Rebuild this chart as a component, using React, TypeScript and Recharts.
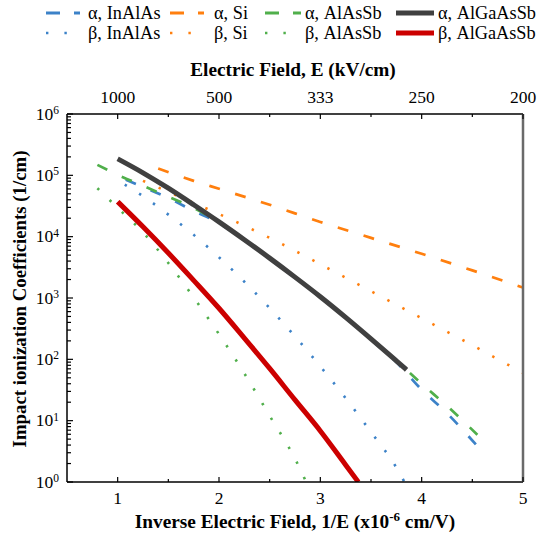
import React from 'react';
import { LineChart, Line, XAxis, YAxis } from 'recharts';

const FONT = "'Liberation Serif', 'Times New Roman', serif";

// ---- data (x: inverse field 1/E in 1e-6 cm/V, y: coefficient in 1/cm) ----
const alphaInAlAsX = [1.08, 1.25, 1.5, 1.75, 2.0, 2.25, 2.5, 2.75, 3.0, 3.25, 3.5, 3.75, 4.0, 4.25, 4.54];
const alphaInAlAsY = [85100, 64600, 42700, 26300, 16600, 8710, 4370, 2140, 1030, 479, 210, 90, 32, 13.2, 4.0];

const betaInAlAsX = [1.07, 1.25, 1.5, 1.75, 2.0, 2.25, 2.5, 2.75, 3.0, 3.25, 3.5, 3.75, 3.83];
const betaInAlAsY = [70800, 45700, 22900, 10700, 4620, 1840, 684, 237, 76.7, 23.2, 6.53, 1.72, 1];

const alphaSiX = [1.4, 1.75, 2.0, 2.5, 3.0, 3.5, 4.0, 4.5, 5.0];
const alphaSiY = [129000, 81300, 60300, 33100, 17400, 9550, 5250, 2820, 1480];

const betaSiX = [1.25, 1.5, 1.75, 2.0, 2.25, 2.5, 2.75, 3.0, 3.25, 3.5, 3.75, 4.0, 4.25, 4.5, 4.75, 5.0];
const betaSiY = [81300, 53700, 35500, 23400, 15100, 9550, 5890, 3550, 2140, 1290, 776, 468, 282, 170, 101, 60];

const alphaAlAsSbX = [0.8, 1.0, 1.25, 1.5, 1.75, 2.0, 2.25, 2.5, 2.75, 3.0, 3.25, 3.5, 3.75, 4.0, 4.25, 4.55];
const alphaAlAsSbY = [148000, 102000, 67600, 44700, 29500, 17000, 8810, 4420, 2180, 1050, 484, 216, 96, 40, 17.4, 5.9];

const betaAlAsSbX = [0.8, 1.0, 1.25, 1.5, 1.75, 2.0, 2.25, 2.5, 2.75, 2.86];
const betaAlAsSbY = [61700, 29500, 11700, 3720, 1020, 257, 59, 12, 2.4, 1];

const alphaAlGaAsSbX = [1.0, 1.25, 1.5, 1.75, 2.0, 2.25, 2.5, 2.75, 3.0, 3.25, 3.5, 3.75, 3.85];
const alphaAlGaAsSbY = [186000, 110000, 61700, 33100, 17400, 8910, 4470, 2190, 1050, 484, 216, 94.4, 67.6];

const betaAlGaAsSbX = [1.0, 1.25, 1.5, 1.75, 2.0, 2.25, 2.5, 2.75, 3.0, 3.25, 3.375];
const betaAlGaAsSbY = [37200, 14500, 5420, 1940, 680, 222, 71, 21.8, 6.8, 1.9, 1];

// ---- ticks ----
const xTicks = [1, 1.5, 2, 2.5, 3, 3.5, 4, 4.5, 5];
const topTickLabels = ['1000', '500', '333', '250', '200'];
const yMajorTicks = [1, 10, 100, 1000, 10000, 100000, 1000000];
const yTicks: number[] = [];
yMajorTicks.forEach((d, i) => {
  yTicks.push(d);
  if (i < yMajorTicks.length - 1) for (let m = 2; m <= 9; m++) yTicks.push(d * m);
});

const mk = (xs: number[], ys: number[]) => xs.map((x, i) => ({ x, y: ys[i] }));

const BLUE = '#3c82c8';
const ORANGE = '#ff7f0e';
const GREEN = '#50af4b';
const DARK = '#404040';
const RED = '#cc0000';

const DASH = '11 16';
const DOT = '2.4 14.6';

type S = { key: string; label: string; data: { x: number; y: number }[]; color: string; width: number; dash?: string; legendDash?: string };

const series: S[] = [
  { key: 'aInAlAs', label: 'α, InAlAs', data: mk(alphaInAlAsX, alphaInAlAsY), color: BLUE, width: 2.7, dash: DASH, legendDash: '14 14' },
  { key: 'bInAlAs', label: 'β, InAlAs', data: mk(betaInAlAsX, betaInAlAsY), color: BLUE, width: 2.6, dash: DOT, legendDash: '2.4 16' },
  { key: 'aSi', label: 'α, Si', data: mk(alphaSiX, alphaSiY), color: ORANGE, width: 2.7, dash: DASH, legendDash: '14 14' },
  { key: 'bSi', label: 'β, Si', data: mk(betaSiX, betaSiY), color: ORANGE, width: 2.6, dash: DOT, legendDash: '2.4 16' },
  { key: 'aAlAsSb', label: 'α, AlAsSb', data: mk(alphaAlAsSbX, alphaAlAsSbY), color: GREEN, width: 2.7, dash: DASH, legendDash: '14 14' },
  { key: 'bAlAsSb', label: 'β, AlAsSb', data: mk(betaAlAsSbX, betaAlAsSbY), color: GREEN, width: 2.6, dash: DOT, legendDash: '2.4 16' },
  { key: 'aAlGaAsSb', label: 'α, AlGaAsSb', data: mk(alphaAlGaAsSbX, alphaAlGaAsSbY), color: DARK, width: 5 },
  { key: 'bAlGaAsSb', label: 'β, AlGaAsSb', data: mk(betaAlGaAsSbX, betaAlGaAsSbY), color: RED, width: 5 },
];

const legendRows = [
  ['aInAlAs', 'aSi', 'aAlAsSb', 'aAlGaAsSb'],
  ['bInAlAs', 'bSi', 'bAlAsSb', 'bAlGaAsSb'],
];
const legendSampleX = [[46, 80], [170, 204], [265, 301], [396, 434]];
const legendTextX = [88, 214, 305, 438];
const legendRowY = [13, 33];

const YTick = (props: any) => {
  const { x, y, payload } = props;
  const v = payload.value as number;
  const lg = Math.log10(v);
  const exp = Math.round(lg);
  const major = Math.abs(lg - exp) < 1e-9;
  return (
    <g>
      <line x1={x} x2={x + (major ? 6 : 4)} y1={y} y2={y} stroke="#000" strokeWidth={1.2} />
      {major && (
        <text x={x - 8} y={y + 5.5} textAnchor="end" fontSize={17.5} fontFamily={FONT} fill="#000">
          10<tspan dy={-5.5} fontSize={11.5}>{exp}</tspan>
        </text>
      )}
    </g>
  );
};

const BottomTick = (props: any) => {
  const { x, y, payload } = props;
  const v = payload.value as number;
  const major = Number.isInteger(v);
  return (
    <g>
      <line x1={x} x2={x} y1={y} y2={y - (major ? 5 : 3)} stroke="#000" strokeWidth={1.2} />
      {major && (
        <text x={x} y={y + 22} textAnchor="middle" fontSize={17.5} fontFamily={FONT} fill="#000">
          {v}
        </text>
      )}
    </g>
  );
};

const TopTick = (props: any) => {
  const { x, y, payload } = props;
  const v = payload.value as number;
  const major = Number.isInteger(v);
  return (
    <g>
      <line x1={x} x2={x} y1={y} y2={y + (major ? 5 : 3)} stroke="#000" strokeWidth={1.2} />
      {major && (
        <text x={x} y={y - 11} textAnchor="middle" fontSize={17.5} fontFamily={FONT} fill="#000">
          {topTickLabels[v - 1]}
        </text>
      )}
    </g>
  );
};

export default function App() {
  const byKey: Record<string, S> = {};
  series.forEach((s) => (byKey[s.key] = s));
  return (
    <div style={{ position: 'absolute', left: 0, top: 0, width: 538, height: 540, background: '#fff' }}>
      <LineChart width={538} height={540} margin={{ top: 84, right: 10, bottom: 28, left: 7 }}>
        <XAxis
          xAxisId="bottom"
          dataKey="x"
          type="number"
          domain={[0.5, 5]}
          allowDataOverflow
          ticks={xTicks}
          interval={0}
          height={30}
          tickSize={0}
          tickMargin={0}
          tickLine={false}
          tick={<BottomTick />}
          axisLine={{ stroke: '#000', strokeWidth: 1.5 }}
        />
        <XAxis
          xAxisId="top"
          orientation="top"
          dataKey="x"
          type="number"
          domain={[0.5, 5]}
          allowDataOverflow
          ticks={xTicks}
          interval={0}
          height={30}
          tickSize={0}
          tickMargin={0}
          tickLine={false}
          tick={<TopTick />}
          axisLine={{ stroke: '#000', strokeWidth: 1.5 }}
        />
        <YAxis
          yAxisId="left"
          scale="log"
          type="number"
          domain={[1, 1000000]}
          allowDataOverflow
          ticks={yTicks}
          interval={0}
          width={60}
          tickSize={0}
          tickMargin={0}
          tickLine={false}
          tick={<YTick />}
          axisLine={{ stroke: '#000', strokeWidth: 1.5 }}
        />
        <YAxis
          yAxisId="right"
          orientation="right"
          type="number"
          domain={[0, 1]}
          width={5}
          tick={false}
          tickLine={false}
          axisLine={{ stroke: '#6a6a6a', strokeWidth: 2.5 }}
        />
        {series.map((s) => (
          <Line
            key={s.key}
            xAxisId="bottom"
            yAxisId="left"
            data={s.data}
            dataKey="y"
            type="monotone"
            stroke={s.color}
            strokeWidth={s.width}
            strokeDasharray={s.dash}
            strokeLinecap="butt"
            dot={false}
            activeDot={false}
            isAnimationActive={false}
          />
        ))}
      </LineChart>
      <svg width={538} height={540} style={{ position: 'absolute', left: 0, top: 0, pointerEvents: 'none' }}>
        {legendRows.map((row, ri) =>
          row.map((k, ci) => {
            const s = byKey[k];
            const yy = legendRowY[ri];
            return (
              <g key={k}>
                <line
                  x1={legendSampleX[ci][0]}
                  x2={legendSampleX[ci][1]}
                  y1={yy}
                  y2={yy}
                  stroke={s.color}
                  strokeWidth={s.dash ? (s.dash === DOT ? 2.6 : 2.8) : 5}
                  strokeDasharray={s.legendDash}
                />
                <text x={legendTextX[ci]} y={yy + 6} fontSize={18.3} fontFamily={FONT} fill="#000">
                  {s.label}
                </text>
              </g>
            );
          })
        )}
        <text x={293} y={76} textAnchor="middle" fontSize={19.3} fontWeight="bold" fontFamily={FONT} fill="#000">
          Electric Field, E (kV/cm)
        </text>
        <text x={295} y={528} textAnchor="middle" fontSize={19.3} fontWeight="bold" fontFamily={FONT} fill="#000">
          Inverse Electric Field, 1/E (x10<tspan dy={-7.5} fontSize={13}>-6</tspan>
          <tspan dy={7.5}> cm/V)</tspan>
        </text>
        <text
          x={26}
          y={299}
          transform="rotate(-90, 26, 299)"
          textAnchor="middle"
          fontSize={18.8}
          fontWeight="bold"
          fontFamily={FONT}
          fill="#000"
        >
          Impact ionization Coefficients (1/cm)
        </text>
      </svg>
    </div>
  );
}
